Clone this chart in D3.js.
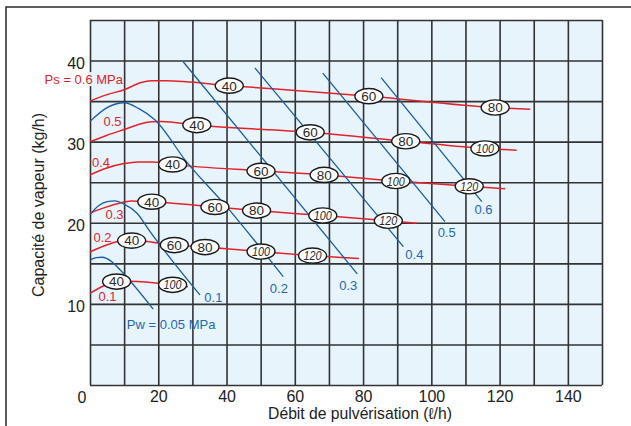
<!DOCTYPE html>
<html>
<head>
<meta charset="utf-8">
<script src="https://cdn.jsdelivr.net/npm/d3@7"></script>
<style>
  body { margin: 0; background: #fff; }
  svg { display: block; }
  text { font-family: "Liberation Sans", Arial, Helvetica, sans-serif; }
</style>
</head>
<body>
<svg id="chart" width="631" height="426"></svg>
<script>
// Steam pressure curves Ps (MPa): [spray flow l/h, steam capacity kg/h]
const steamLevels = ["0.6", "0.5", "0.4", "0.3", "0.2", "0.1"];
const steam06 = [[0, 35.0], [5, 35.8], [10, 36.4], [15, 37.3], [18, 37.5], [22, 37.5], [41, 36.9], [82, 35.6], [119, 34.2], [129, 34.0]];
const steam05 = [[0, 30.0], [5, 30.8], [10, 31.5], [15, 32.2], [18, 32.45], [21, 32.5], [31, 32.05], [64.5, 31.15], [92.5, 30.05], [116, 29.15], [125, 28.95]];
const steam04 = [[0, 25.9], [4.5, 26.7], [10, 27.3], [14, 27.5], [18, 27.5], [24, 27.2], [50, 26.4], [68.6, 25.9], [89.6, 25.15], [111, 24.5], [121.6, 24.2]];
const steam03 = [[0, 21.2], [4.5, 21.9], [8.5, 22.4], [12, 22.7], [18, 22.6], [36.6, 21.95], [48.8, 21.5], [68.2, 20.9], [87.4, 20.25], [95.7, 19.95]];
const steam02 = [[0, 16.4], [4.5, 17.2], [9, 17.75], [12.2, 17.8], [24.7, 17.25], [33.7, 17.0], [50.1, 16.45], [65.2, 15.95], [78.8, 15.6]];
const steam01 = [[0, 11.3], [4.4, 12.3], [7.8, 12.75], [11.7, 12.8], [24.2, 12.35], [28.7, 12.1]];
const steamCurves = [steam06, steam05, steam04, steam03, steam02, steam01];

// Nozzle tags along each steam curve: [spray flow l/h, tag]
const tags06 = [[40.8, "40"], [81.7, "60"], [118.7, "80"]];
const tags05 = [[31.3, "40"], [64.5, "60"], [92.5, "80"], [115.7, "100"]];
const tags04 = [[24.2, "40"], [50.1, "60"], [68.6, "80"], [89.6, "100"], [111.1, "120"]];
const tags03 = [[18.1, "40"], [36.6, "60"], [48.8, "80"], [68.2, "100"], [87.4, "120"]];
const tags02 = [[12.2, "40"], [24.7, "60"], [33.7, "80"], [50.1, "100"], [65.2, "120"]];
const tags01 = [[7.8, "40"], [24.2, "100"]];
const steamTags = [tags06, tags05, tags04, tags03, tags02, tags01];

// Water pressure curves Pw (MPa)
const waterLevels = ["0.05", "0.1", "0.2", "0.3", "0.4", "0.5", "0.6"];
const water005 = [[0, 15.4], [1.8, 15.7], [3.5, 15.75], [6.4, 15.2], [8.8, 14.2], [18.5, 9.35]];
const water01 = [[0, 21.0], [2.5, 22.1], [5, 22.6], [7.3, 22.7], [10, 22.3], [13.7, 21.2], [17.6, 18.9], [32.2, 11.1]];
const water02 = [[0, 32.5], [5, 34.2], [10, 34.8], [14.2, 34.1], [19, 32.7], [28.3, 27.5], [40, 22.0], [56.6, 13.35]];
const water03 = [[27.3, 39.85], [78.3, 13.7]];
const water04 = [[48.3, 39.1], [91.8, 17.05]];
const water05 = [[68.2, 38.45], [104, 20.15]];
const water06 = [[85.3, 37.9], [114.8, 22.6]];
const waterCurves = [water005, water01, water02, water03, water04, water05, water06];

// Axis ticks
const xTicks = [20, 40, 60, 80, 100, 120, 140];
const yTicks = [10, 20, 30, 40];
const xTitle = "Débit de pulvérisation (ℓ/h)";
const yTitle = "Capacité de vapeur (kg/h)";

const RED = "#e3222c", BLUE = "#1b5ca8", BLUE_TXT = "#2468b3", GRID = "#333333";

const svg = d3.select("#chart");
const x = d3.scaleLinear().domain([0, 150]).range([90, 602]);
const y = d3.scaleLinear().domain([0, 45]).range([385, 20]);

// outer frame
svg.append("path").attr("d", "M6,426V7H631")
  .attr("fill", "none").attr("stroke", "#2a2a2a").attr("stroke-width", 1.5);

// plot background
svg.append("rect")
  .attr("x", x(0)).attr("y", y(45))
  .attr("width", x(150) - x(0)).attr("height", y(0) - y(45))
  .attr("fill", "#e7f4fc");

// grid through the axes
svg.append("g").attr("transform", `translate(0,${y(0)})`)
  .call(d3.axisBottom(x).tickValues(d3.range(0, 151, 10)).tickSize(-(y(0) - y(45))).tickFormat(""))
  .call(g => g.select(".domain").remove())
  .call(g => g.selectAll("line").attr("stroke", GRID).attr("stroke-width", 1.6));
svg.append("g").attr("transform", `translate(${x(0)},0)`)
  .call(d3.axisLeft(y).tickValues(d3.range(0, 46, 5)).tickSize(-(x(150) - x(0))).tickFormat(""))
  .call(g => g.select(".domain").remove())
  .call(g => g.selectAll("line").attr("stroke", GRID).attr("stroke-width", 1.6));

// tick labels
svg.append("g").attr("transform", `translate(0,${y(0)})`)
  .call(d3.axisBottom(x).tickValues(xTicks).tickSize(0).tickPadding(6))
  .call(g => g.select(".domain").remove())
  .call(g => g.selectAll("text").attr("font-size", 16).attr("fill", "#222").attr("font-family", null));
svg.append("g").attr("transform", `translate(${x(0)},0)`)
  .call(d3.axisLeft(y).tickValues(yTicks).tickSize(0).tickPadding(5))
  .call(g => g.select(".domain").remove())
  .call(g => g.selectAll("text").attr("font-size", 16).attr("fill", "#222").attr("dy", "0.48em").attr("font-family", null));
svg.append("text").attr("x", x(0) - 8).attr("y", y(0) + 17.6)
  .attr("text-anchor", "middle").attr("font-size", 16).attr("fill", "#222").text("0");

// axis titles
svg.append("text").attr("x", 360).attr("y", 418.5)
  .attr("text-anchor", "middle").attr("font-size", 15.7).attr("fill", "#222").text(xTitle);
svg.append("text").attr("transform", "translate(43.5,205) rotate(-90)")
  .attr("text-anchor", "middle").attr("font-size", 16).attr("fill", "#222").text(yTitle);

const line = d3.line().x(d => x(d[0])).y(d => y(d[1])).curve(d3.curveMonotoneX);

// steam curves
svg.append("g").selectAll("path").data(steamCurves).join("path")
  .attr("d", line).attr("fill", "none").attr("stroke", RED).attr("stroke-width", 1.5);

// water curves
svg.append("g").selectAll("path").data(waterCurves).join("path")
  .attr("d", line).attr("fill", "none").attr("stroke", BLUE).attr("stroke-width", 1.3);

// nozzle tags sit on their steam curve
function along(curve, v) {
  for (let i = 1; i < curve.length; i++) {
    const [x0, y0] = curve[i - 1], [x1, y1] = curve[i];
    if (v <= x1) return y0 + (y1 - y0) * (v - x0) / (x1 - x0);
  }
  return curve[curve.length - 1][1];
}
steamTags.forEach((tags, i) => {
  const g = svg.append("g").selectAll("g").data(tags).join("g")
    .attr("transform", d => `translate(${x(d[0])},${y(along(steamCurves[i], d[0]))})`);
  g.append("ellipse").attr("rx", 14).attr("ry", 7.6)
    .attr("fill", "#fff").attr("stroke", "#1a1a1a").attr("stroke-width", 1.4);
  g.append("text").attr("text-anchor", "middle").attr("dy", "0.36em")
    .attr("fill", "#2a2a2a")
    .attr("font-size", d => d[1].length > 2 ? 12.5 : 13.5)
    .attr("font-style", d => d[1].length > 2 ? "italic" : null)
    .each(function (d) {
      if (d[1].length > 2) d3.select(this).attr("textLength", 18).attr("lengthAdjust", "spacingAndGlyphs");
    })
    .text(d => d[1]);
});

// steam pressure labels, placed against the start of each curve
const steamLabelOffset = [[33, -17.6, "end"], [22.5, -15.3, "middle"], [11, -8.2, "middle"], [24.5, 6.4, "middle"], [12.5, -10.2, "middle"], [17.5, 8.1, "middle"]];
// small gap in the left border behind the top label
svg.append("rect").attr("x", x(0) - 2).attr("y", y(steam06[0][1]) - 29).attr("width", 4).attr("height", 14)
  .attr("fill", "#e7f4fc");
steamLevels.forEach((lv, i) => {
  const p = steamCurves[i][0], o = steamLabelOffset[i];
  svg.append("text").attr("x", x(p[0]) + o[0]).attr("y", y(p[1]) + o[1])
    .attr("text-anchor", o[2]).attr("font-size", 13).attr("fill", RED)
    .text(i === 0 ? `Ps = ${lv} MPa` : lv);
});

// water pressure labels, placed against the end of each curve
const waterLabelOffset = [[-26.3, 19.4, "start"], [13.5, 6.7, "middle"], [-4.3, 16.3, "middle"], [-9, 16.4, "middle"], [11, 12.3, "middle"], [1.7, 15.3, "middle"], [1.6, 12.3, "middle"]];
waterLevels.forEach((lv, i) => {
  const c = waterCurves[i], p = c[c.length - 1], o = waterLabelOffset[i];
  svg.append("text").attr("x", x(p[0]) + o[0]).attr("y", y(p[1]) + o[1])
    .attr("text-anchor", o[2]).attr("font-size", 13).attr("fill", BLUE_TXT)
    .text(i === 0 ? `Pw = ${lv} MPa` : lv);
});
</script>
</body>
</html>
